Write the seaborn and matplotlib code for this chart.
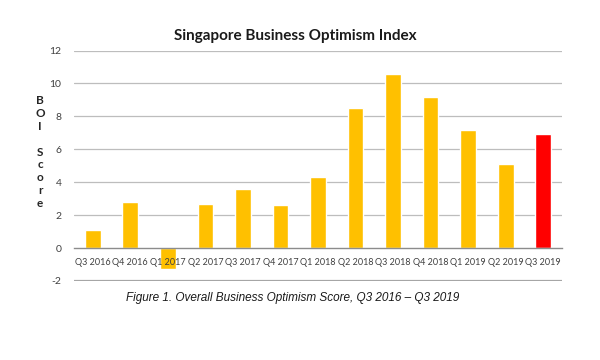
import numpy as np
import pandas as pd
import matplotlib
matplotlib.use("Agg")
import matplotlib.pyplot as plt
import seaborn as sns

# ---- data ----
quarters = ["Q3 2016", "Q4 2016", "Q1 2017", "Q2 2017", "Q3 2017", "Q4 2017", "Q1 2018",
            "Q2 2018", "Q3 2018", "Q4 2018", "Q1 2019", "Q2 2019", "Q3 2019"]
boi_score = [1.1, 2.8, -1.3, 2.7, 3.6, 2.6, 4.3, 8.5, 10.6, 9.2, 7.2, 5.1, 6.9]
bar_colors = ["#FFC000"] * 12 + ["#FF0000"]
y_ticks = [-2, 0, 2, 4, 6, 8, 10, 12]

df = pd.DataFrame({"quarter": quarters, "score": boi_score})

sns.set_style("white")
plt.rcParams['font.family'] = ['Lato', 'DejaVu Sans']
plt.rcParams['axes.unicode_minus'] = False

fig = plt.figure(figsize=(6, 3.6), dpi=100)
ax = fig.add_axes([74 / 600, 1 - 281 / 360, (562 - 74) / 600, (281 - 50.5) / 360])

sns.barplot(data=df, x="quarter", y="score", hue="quarter", palette=bar_colors,
            width=0.42, legend=False, ax=ax, saturation=1, zorder=1)

ax.set_ylim(-2, 12)
ax.set_xlim(-0.5, len(quarters) - 0.5)
ax.set_yticks(y_ticks)
ax.grid(False)
ax.set_axisbelow(False)
# gridlines behind the bars, tick labels above
for yv in y_ticks:
    if yv == -2:
        ax.axhline(yv, color="#A6A6A6", linewidth=1.6, zorder=0)
    elif yv != 0:
        ax.axhline(yv, color="#BDBDBD", linewidth=0.9, zorder=0)
ax.set_xlabel("")
ax.set_ylabel("")

# x axis sits on zero
for s in ["top", "right", "left"]:
    ax.spines[s].set_visible(False)
ax.spines["bottom"].set_position(("data", 0))
ax.spines["bottom"].set_color("#8C8C8C")
ax.spines["bottom"].set_linewidth(1.0)
ax.set_xticks(np.arange(len(quarters)))
ax.set_xticklabels(quarters)
ax.set_xticks(np.arange(len(quarters) + 1) - 0.5, minor=True)
ax.tick_params(axis="x", which="major", length=0, labelsize=6.5, pad=7, colors="#404040")
ax.tick_params(axis="x", which="minor", length=3, color="#8C8C8C", direction="out")
ax.tick_params(axis="y", length=0, labelsize=7.5, pad=9, colors="#404040")

fig.text(0.493, 0.9, "Singapore Business Optimism Index", ha="center", va="center",
         fontsize=11, fontweight="bold", color="#1a1a1a")
fig.text(0.067, 1 - 152 / 360, "B\nO\nI\n\nS\nc\no\nr\ne", ha="center", va="center",
         fontsize=8.5, fontweight="bold", linespacing=1.2, color="#262626")
fig.text(0.488, 1 - 298 / 360, "Figure 1. Overall Business Optimism Score, Q3 2016 \u2013 Q3 2019",
         ha="center", va="center", fontsize=8.5, style="italic",
         family=["Liberation Sans", "DejaVu Sans"], color="#1a1a1a")

fig.savefig("out.png", dpi=100)
